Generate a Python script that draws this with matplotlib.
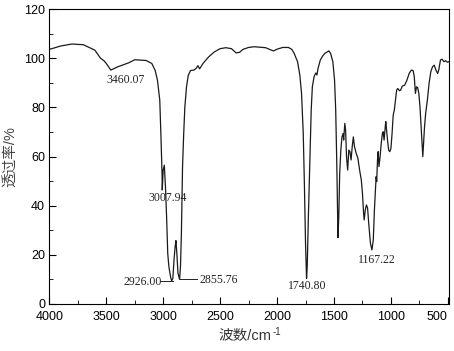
import matplotlib
matplotlib.use('Agg')
import matplotlib.pyplot as plt
from matplotlib.ticker import MultipleLocator

# FTIR spectrum
wavenumber = [4000, 3900, 3800, 3700, 3600, 3550, 3520, 3500, 3460, 3400, 3300, 3250, 3150, 3100,
              3070, 3050, 3030, 3020, 3010, 3008, 3000, 2990, 2980, 2970, 2960, 2950, 2935, 2926,
              2915, 2905, 2895, 2888, 2880, 2870, 2856, 2848, 2840, 2830, 2820, 2810, 2795, 2780,
              2760, 2730, 2710, 2695, 2680, 2650, 2600, 2550, 2500, 2450, 2400, 2360, 2330, 2300,
              2250, 2200, 2100, 2050, 2030, 2000, 1950, 1900, 1870, 1850, 1820, 1800, 1785, 1770,
              1760, 1750, 1741, 1735, 1725, 1710, 1700, 1690, 1675, 1660, 1650, 1640, 1620, 1600,
              1580, 1560, 1545, 1530, 1510, 1495, 1485, 1475, 1465, 1458, 1450, 1440, 1430, 1420,
              1415, 1405, 1398, 1390, 1380, 1370, 1360, 1350, 1340, 1330, 1320, 1305, 1290, 1275,
              1260, 1250, 1240, 1235, 1225, 1215, 1205, 1195, 1180, 1167, 1155, 1145, 1135, 1130,
              1125, 1118, 1112, 1105, 1095, 1085, 1075, 1068, 1060, 1050, 1045, 1038, 1030, 1020,
              1010, 1000, 990, 980, 970, 960, 950, 940, 925, 915, 900, 880, 860, 840, 820, 805,
              795, 785, 775, 765, 755, 745, 735, 725, 720, 715, 705, 695, 680, 665, 650, 635,
              620, 605, 590, 580, 565, 550, 535, 520, 505, 490]
transmittance = [103.6, 105.0, 105.8, 105.5, 103.3, 100.0, 99.0, 97.9, 95.2, 96.5, 98.2, 99.4, 99.1, 97.9,
                 95.0, 91.0, 83.0, 69.0, 53.0, 46.4, 54.5, 56.5, 47.7, 35.5, 20.6, 15.2, 11.0, 9.4,
                 10.4, 17.9, 23.3, 25.8, 20.6, 12.5, 10.0, 15.2, 28.7, 55.9, 69.0, 80.0, 88.4, 93.0,
                 95.0, 95.2, 95.9, 97.0, 95.7, 97.9, 100.6, 102.6, 103.9, 104.3, 103.9, 102.2, 102.4, 103.6,
                 104.4, 104.7, 104.3, 103.3, 103.0, 103.7, 104.4, 104.4, 103.6, 102.0, 98.6, 93.2, 85.7, 69.4,
                 49.0, 24.7, 10.4, 15.2, 35.5, 62.6, 79.0, 88.4, 92.5, 94.0, 93.2, 95.9, 99.3, 100.9,
                 102.0, 102.6, 103.0, 102.0, 98.6, 91.0, 79.0, 55.9, 27.0, 35.5, 53.0, 62.6, 68.0, 69.4,
                 66.7, 73.5, 70.8, 60.0, 54.5, 62.6, 62.0, 58.6, 64.0, 68.0, 64.0, 61.3, 59.3, 54.5,
                 50.4, 45.0, 36.9, 34.2, 38.3, 40.3, 39.0, 32.8, 24.7, 22.0, 26.0, 38.3, 47.7, 51.8,
                 49.8, 58.6, 62.0, 55.9, 60.0, 65.4, 69.4, 70.1, 66.7, 72.1, 74.2, 70.8, 66.7, 62.6,
                 62.0, 63.3, 69.4, 76.9, 79.0, 83.0, 87.0, 87.7, 86.8, 87.0, 88.7, 89.0, 91.0, 93.8, 95.2, 95.0,
                 92.5, 85.7, 88.4, 88.0, 85.7, 80.3, 72.1, 64.0, 60.0, 64.0, 72.1, 77.6, 83.0, 89.8, 94.5, 96.5,
                 97.2, 95.2, 93.8, 95.2, 99.3, 99.6, 98.6, 99.0, 98.4, 98.6]

# peak labels: text, text position (wavenumber, T)
peak_labels = ['3460.07', '3007.94', '2926.00', '2855.76', '1740.80', '1167.22']
label_x = [3332, 2960, 3177, 2515, 1738, 1120]
label_y = [91.0, 43.0, 9.1, 9.8, 7.3, 18.0]

x_ticks = [4000, 3500, 3000, 2500, 2000, 1500, 1000, 500]

plt.rcParams['font.family'] = ['Liberation Sans', 'Noto Sans CJK SC', 'DejaVu Sans']

fig = plt.figure(figsize=(4.54, 3.51), dpi=100)
ax = fig.add_axes([0.1086, 0.134, 0.8804, 0.840])

ax.plot(wavenumber, transmittance, color='#1a1a1a', linewidth=0.9)

for txt, x, y in zip(peak_labels, label_x, label_y):
    ax.text(x, y, txt, ha='center', va='center', fontsize=8.5,
            family=['Liberation Serif'], color='#222')

# leader lines for the doublet labels
ax.plot([3025, 2915], [9.4, 9.4], color='#222', linewidth=0.7)
ax.plot([2851, 2700], [10.3, 10.3], color='#222', linewidth=0.7)

ax.set_xlim(4000, 490)
ax.set_ylim(0, 120)
ax.set_xticks(x_ticks, [str(t) for t in x_ticks])
ax.xaxis.set_minor_locator(MultipleLocator(250))
ax.yaxis.set_major_locator(MultipleLocator(20))
ax.yaxis.set_minor_locator(MultipleLocator(10))
ax.tick_params(which='both', direction='in', top=False, right=False, labelsize=9, pad=3)
ax.tick_params(axis='x', which='major', pad=5)
ax.tick_params(which='major', length=5)
ax.tick_params(which='minor', length=3)

# the 500 label is pulled inside the figure edge
for lab in ax.get_xticklabels():
    if lab.get_text() == '500':
        lab.set_horizontalalignment('right')

ax.set_ylabel('透过率/%', fontsize=10.5, color='#444', labelpad=5)
# x label built from pieces so the CJK text and the superscript both render
fig.text(0.598, 0.030, '波数/cm', fontsize=10.5, color='#333', ha='right', va='baseline')
fig.text(0.600, 0.046, '-1', fontsize=7, color='#333', ha='left', va='baseline')

fig.savefig('out.png', dpi=100)
